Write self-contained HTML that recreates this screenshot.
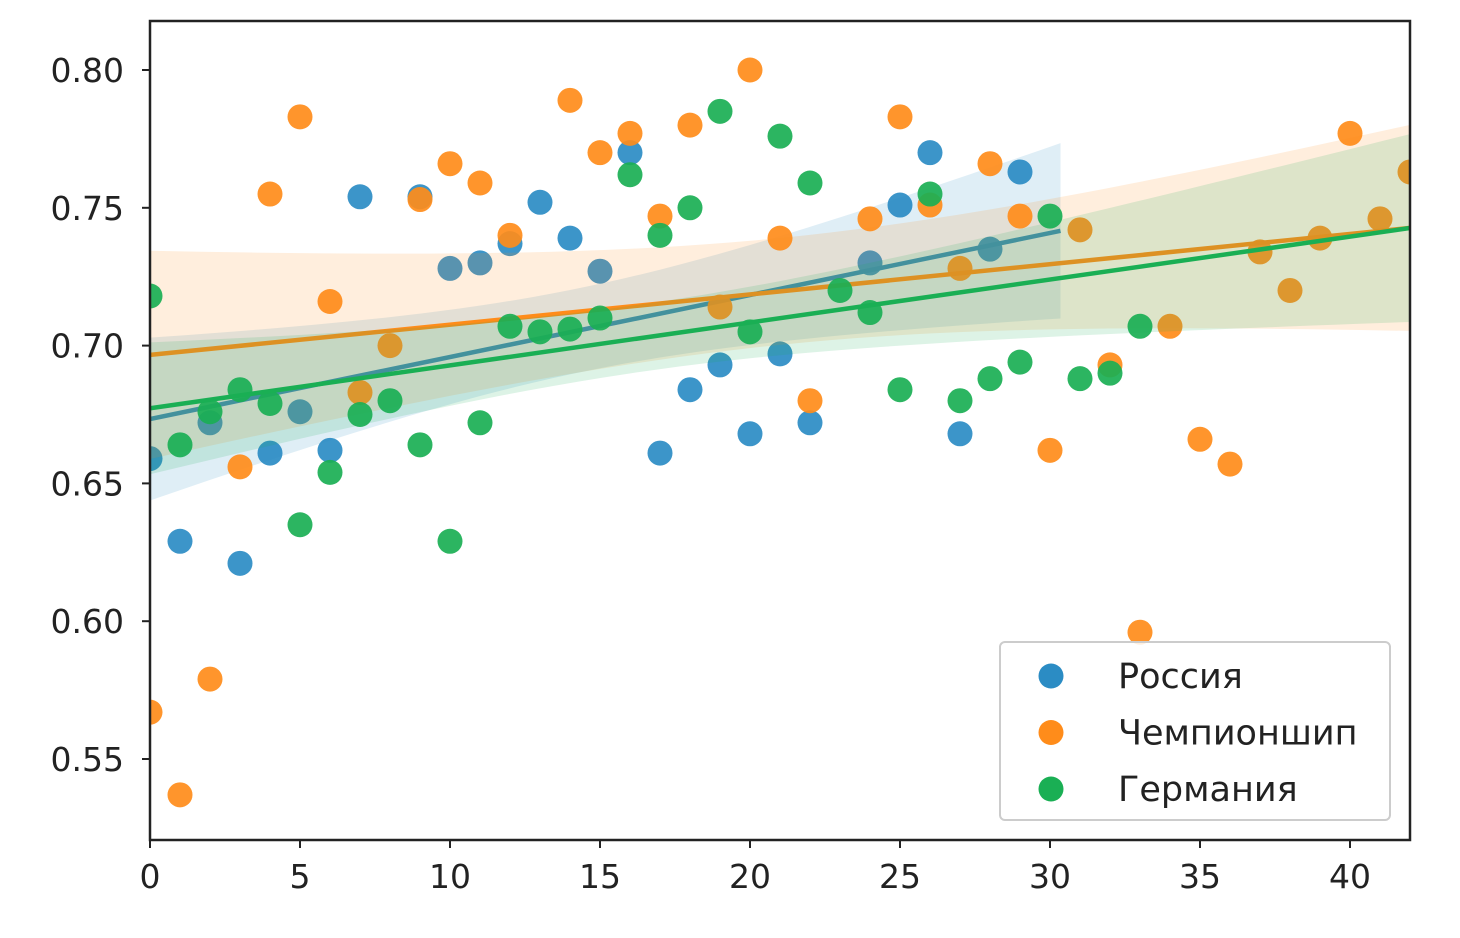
<!DOCTYPE html>
<html><head><meta charset="utf-8"><style>
body{margin:0;background:#fff;}
svg text{font-family:"DejaVu Sans","Liberation Sans",sans-serif;fill:#222;}
</style></head><body>
<svg id="chart" width="1460" height="933" xmlns="http://www.w3.org/2000/svg">
<g id="layer"></g>
</svg>
<script>
const xTicks=[0,5,10,15,20,25,30,35,40];
const yTicks=[0.55,0.60,0.65,0.70,0.75,0.80];
const yTickLabels=["0.55","0.60","0.65","0.70","0.75","0.80"];
const seriesNames=["Россия","Чемпионшип","Германия"];
const russiaX=[0,1,2,3,4,5,6,7,9,10,11,12,13,14,15,16,17,18,19,20,21,22,24,25,26,27,28,29];
const russiaY=[0.659,0.629,0.672,0.621,0.661,0.676,0.662,0.754,0.754,0.728,0.730,0.737,0.752,0.739,0.727,0.770,0.661,0.684,0.693,0.668,0.697,0.672,0.730,0.751,0.770,0.668,0.735,0.763];
const champX=[0,1,2,3,4,5,6,7,8,9,10,11,12,14,15,16,17,18,19,20,21,22,24,25,26,27,28,29,30,31,32,33,34,35,36,37,38,39,40,41,42];
const champY=[0.567,0.537,0.579,0.656,0.755,0.783,0.716,0.683,0.700,0.753,0.766,0.759,0.740,0.789,0.770,0.777,0.747,0.780,0.714,0.800,0.739,0.680,0.746,0.783,0.751,0.728,0.766,0.747,0.662,0.742,0.693,0.596,0.707,0.666,0.657,0.734,0.720,0.739,0.777,0.746,0.763];
const germX=[0,1,2,3,4,5,6,7,8,9,10,11,12,13,14,15,16,17,18,19,20,21,22,23,24,25,26,27,28,29,30,31,32,33];
const germY=[0.718,0.664,0.676,0.684,0.679,0.635,0.654,0.675,0.680,0.664,0.629,0.672,0.707,0.705,0.706,0.710,0.762,0.740,0.750,0.785,0.705,0.776,0.759,0.720,0.712,0.684,0.755,0.680,0.688,0.694,0.747,0.688,0.690,0.707];

const L=150,R=1410,T=21,B=840;
const sx=v=>L+(v-0)*30;
const sy=v=>70+(0.80-v)*2756;
const NS="http://www.w3.org/2000/svg";
const g=document.getElementById('layer');
function mk(tag,attrs,parent){const e=document.createElementNS(NS,tag);for(const k in attrs)e.setAttribute(k,attrs[k]);(parent||g).appendChild(e);return e;}

const defs=mk('defs',{});
const cp=mk('clipPath',{id:'clip'},defs);
mk('rect',{x:L,y:T,width:R-L,height:B-T},cp);
const plot=mk('g',{'clip-path':'url(#clip)'});



const series=[
 {x:russiaX,y:russiaY,c:'#2b8cc4',xmax:30.35,key:'russia'},
 {x:champX,y:champY,c:'#ff8c1a',xmax:42,key:'championship'},
 {x:germX,y:germY,c:'#1aaf54',xmax:42,key:'germany'}
];
series.forEach(s=>{
  const sg=mk('g',{},plot);
  
  
  s.x.forEach((xv,i)=>{
    const c=mk('circle',{cx:sx(xv),cy:sy(s.y[i]),r:12.5,fill:s.c,'fill-opacity':0.92},sg);
    
    
  });
  const n=s.x.length;
  const xm=s.x.reduce((a,b)=>a+b,0)/n, ym=s.y.reduce((a,b)=>a+b,0)/n;
  let sxx=0,sxy=0;s.x.forEach((xv,i)=>{sxx+=(xv-xm)**2;sxy+=(xv-xm)*(s.y[i]-ym);});
  const b=sxy/sxx,a=ym-b*xm;
  let sse=0;s.x.forEach((xv,i)=>{sse+=(s.y[i]-a-b*xv)**2;});
  const se=Math.sqrt(sse/(n-2));
  const up=[],lo=[];
  for(let k=0;k<=50;k++){const xv=s.xmax*k/50;const yh=a+b*xv;const h=2.0*se*Math.sqrt(1/n+(xv-xm)**2/sxx);up.push(sx(xv)+','+sy(yh+h));lo.unshift(sx(xv)+','+sy(yh-h));}
  const band=mk('polygon',{points:up.concat(lo).join(' '),fill:s.c,'fill-opacity':0.15},sg);
  
  
  const ln=mk('line',{x1:sx(0),y1:sy(a),x2:sx(s.xmax),y2:sy(a+b*s.xmax),stroke:s.c,'stroke-width':4.5},sg);
  
  
});

const frame=mk('rect',{x:L,y:T,width:R-L,height:B-T,fill:'none',stroke:'#222','stroke-width':2.5});



xTicks.forEach(v=>{
  const t=mk('line',{x1:sx(v),x2:sx(v),y1:B,y2:B+8,stroke:'#222','stroke-width':2});
  
  
  const tx=mk('text',{x:sx(v),y:B+48,'font-size':33,'text-anchor':'middle'});
  tx.textContent=String(v);
  
  
});
yTicks.forEach((v,i)=>{
  const t=mk('line',{x1:L-8,x2:L,y1:sy(v),y2:sy(v),stroke:'#222','stroke-width':2});
  
  
  const tx=mk('text',{x:L-26,y:sy(v)+12,'font-size':33,'text-anchor':'end'});
  tx.textContent=yTickLabels[i];
  
  
});

const lg=mk('g',{});


mk('rect',{x:1000,y:642,width:390,height:178,rx:5,fill:'#fff','fill-opacity':0.85,stroke:'#ccc','stroke-width':2},lg);
series.forEach((s,i)=>{
  const yy=676+i*56.5;
  const m=mk('circle',{cx:1051,cy:yy,r:12.5,fill:s.c},lg);
  
  
  const t=mk('text',{x:1118,y:yy+12,'font-size':35},lg);
  t.textContent=seriesNames[i];
  
  
});
</script>
</body></html>
